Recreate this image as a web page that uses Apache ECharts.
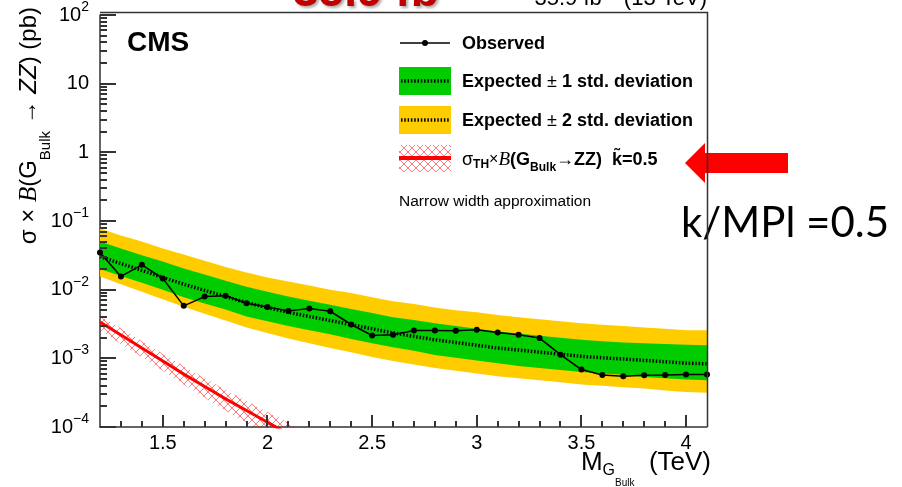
<!DOCTYPE html>
<html>
<head>
<meta charset="utf-8">
<script src="https://cdn.jsdelivr.net/npm/echarts@6/dist/echarts.min.js"></script>
<style>
html, body { margin: 0; padding: 0; background: #fff; }
#chart { width: 902px; height: 487px; }
</style>
</head>
<body>
<div id="chart"></div>
<script>
// masses (TeV)
var massPoints = [1.2, 1.3, 1.4, 1.5, 1.6, 1.7, 1.8, 1.9, 2.0, 2.1, 2.2, 2.3, 2.4, 2.5, 2.6,
                  2.7, 2.8, 2.9, 3.0, 3.1, 3.2, 3.3, 3.4, 3.5, 3.6, 3.7, 3.8, 3.9, 4.0, 4.1];
// observed limit (pb)
var observed = [0.0348, 0.0156, 0.0230, 0.0146, 0.00581, 0.00793, 0.00818, 0.00633, 0.00561, 0.00491,
                0.00531, 0.00485, 0.00311, 0.00215, 0.00220, 0.00255, 0.00255, 0.00253, 0.00261, 0.00238,
                0.00220, 0.00197, 0.00113, 0.000686, 0.000573, 0.000548, 0.000568, 0.000573, 0.000581, 0.000581];
// expected median
var expected = [0.0302, 0.0240, 0.0191, 0.0151, 0.0120, 0.00977, 0.00794, 0.00646, 0.00550, 0.00468,
                0.00407, 0.00355, 0.00309, 0.00269, 0.00234, 0.00209, 0.00186, 0.00170, 0.00155, 0.00141,
                0.00132, 0.00123, 0.00115, 0.00107, 0.00102, 0.000977, 0.000933, 0.000891, 0.000851, 0.000832];
var plus1 = [0.0501, 0.0398, 0.0316, 0.0257, 0.0204, 0.0166, 0.0135, 0.0110, 0.00933, 0.00794,
             0.00692, 0.00603, 0.00525, 0.00457, 0.00398, 0.00363, 0.00324, 0.00295, 0.00269, 0.00245,
             0.00229, 0.00214, 0.00200, 0.00186, 0.00178, 0.00170, 0.00166, 0.00162, 0.00158, 0.00155];
var minus1 = [0.0200, 0.0158, 0.0126, 0.0100, 0.00776, 0.00631, 0.00513, 0.00407, 0.00347, 0.00295,
              0.00257, 0.00224, 0.00191, 0.00166, 0.00145, 0.00129, 0.00112, 0.00102, 0.000933, 0.000851,
              0.000776, 0.000724, 0.000676, 0.000631, 0.000603, 0.000575, 0.000537, 0.000513, 0.000490, 0.000479];
var plus2 = [0.0776, 0.0617, 0.0501, 0.0398, 0.0324, 0.0263, 0.0214, 0.0178, 0.0151, 0.0132,
             0.0115, 0.0100, 0.00891, 0.00776, 0.00676, 0.00617, 0.00550, 0.00501, 0.00468, 0.00427,
             0.00398, 0.00372, 0.00347, 0.00324, 0.00309, 0.00295, 0.00282, 0.00269, 0.00257, 0.00257];
var minus2 = [0.0155, 0.0120, 0.00933, 0.00724, 0.00562, 0.00447, 0.00355, 0.00282, 0.00234, 0.00195,
              0.00166, 0.00141, 0.00123, 0.00105, 0.000912, 0.000813, 0.000724, 0.000661, 0.000603, 0.000550,
              0.000513, 0.000479, 0.000447, 0.000417, 0.000398, 0.000380, 0.000363, 0.000339, 0.000324, 0.000316];

// theory sigma x B (k~ = 0.5)
var theoryMass = [1.2, 1.3, 1.4, 1.5, 1.6, 1.7, 1.8, 1.9, 2.0, 2.1, 2.2];
var theoryXsec = [0.00339, 0.00219, 0.00141, 0.000912, 0.000589, 0.000389, 0.000257, 0.000174, 0.000117, 0.0000794, 0.0000550];
var theoryUp   = [0.00417, 0.00275, 0.00178, 0.00117, 0.000776, 0.000513, 0.000347, 0.000240, 0.000166, 0.000115, 0.0000813];
var theoryDown = [0.00257, 0.00162, 0.00105, 0.000661, 0.000417, 0.000269, 0.000174, 0.000115, 0.0000759, 0.0000501, 0.0000339];

var xMajorTicks = [1.5, 2, 2.5, 3, 3.5, 4];
var xMinorTicks = [1.3, 1.4, 1.6, 1.7, 1.8, 1.9, 2.1, 2.2, 2.3, 2.4, 2.6, 2.7, 2.8, 2.9,
                   3.1, 3.2, 3.3, 3.4, 3.6, 3.7, 3.8, 3.9];
var yMajorTicks = [0.0001, 0.001, 0.01, 0.1, 1, 10, 100];
var yMinorTicks = [];
for (var e = -4; e < 2; e++) {
  for (var m = 2; m <= 9; m++) yMinorTicks.push(m * Math.pow(10, e));
}

var FONT = '"Liberation Sans", Arial, Helvetica, sans-serif';
var SERIF = '"Liberation Serif", "Times New Roman", serif';
var AXIS_COLOR = '#333';
var X0 = 1.2, Y0 = 0.0001;

function zip(xs, ys) {
  var out = [];
  for (var i = 0; i < xs.length; i++) out.push([xs[i], ys[i]]);
  return out;
}

// red cross hatch like ROOT fill style 3344
var hatch = document.createElement('canvas');
hatch.width = 8; hatch.height = 8;
var hc = hatch.getContext('2d');
hc.strokeStyle = 'rgba(255,0,0,0.75)';
hc.lineWidth = 0.7;
hc.beginPath();
hc.moveTo(0, 0); hc.lineTo(8, 8);
hc.moveTo(8, 0); hc.lineTo(0, 8);
hc.stroke();

function band(name, xs, lo, hi, fill, z) {
  return {
    name: name,
    type: 'custom',
    coordinateSystem: 'cartesian2d',
    clip: true,
    silent: true,
    z: z,
    data: [[xs[0], hi[0]]],
    renderItem: function (params, api) {
      var pts = [];
      for (var i = 0; i < xs.length; i++) pts.push(api.coord([xs[i], hi[i]]));
      for (var j = xs.length - 1; j >= 0; j--) pts.push(api.coord([xs[j], lo[j]]));
      return { type: 'polygon', shape: { points: pts }, style: { fill: fill, stroke: null } };
    }
  };
}

// inward ROOT-style ticks placed through the axis scales
function tickSeries(name, pts, dx, dy) {
  return {
    name: name, type: 'custom', coordinateSystem: 'cartesian2d', clip: false, silent: true, z: 20,
    data: [[X0, Y0]],
    renderItem: function (params, api) {
      var children = [];
      for (var i = 0; i < pts.length; i++) {
        var p = api.coord(pts[i]);
        var px = Math.round(p[0]), py = Math.round(p[1]);
        var r = dx !== 0
          ? { x: px, y: py - 1, width: dx, height: 2 }
          : { x: px - 1, y: py + dy, width: 2, height: -dy };
        children.push({ type: 'rect', shape: r, style: { fill: AXIS_COLOR } });
      }
      return { type: 'group', children: children };
    }
  };
}

function t(size, o) {
  o = o || {};
  return {
    fontSize: size,
    fontFamily: o.family || FONT,
    fontWeight: o.weight || 'normal',
    fontStyle: o.style || 'normal',
    fill: o.fill || '#000',
    verticalAlign: 'middle',
    padding: o.padding || [0, 0, 0, 0]
  };
}

var chart = echarts.init(document.getElementById('chart'));

chart.setOption({
  animation: false,
  grid: { left: 100, top: 13, right: 195, bottom: 60 },
  xAxis: {
    type: 'value', min: 1.2, max: 4.1,
    axisLine: { show: true, lineStyle: { color: AXIS_COLOR, width: 1.5 } },
    splitLine: { show: false },
    axisTick: { show: false },
    axisLabel: { customValues: xMajorTicks, fontSize: 20, fontFamily: FONT, color: '#000', margin: 6 }
  },
  yAxis: {
    type: 'log', min: 0.0001, max: 100,
    axisLine: { show: true, lineStyle: { color: AXIS_COLOR, width: 1.5 } },
    splitLine: { show: false },
    axisTick: { show: false },
    axisLabel: {
      margin: 11,
      formatter: function (v) {
        var p = Math.round(Math.log(v) / Math.LN10);
        if (p === 0) return '{b|1}';
        if (p === 1) return '{b|10}';
        return '{b|10}{s|' + (p < 0 ? '\u2212' + (-p) : p) + '}';
      },
      rich: {
        b: { fontSize: 20, fontFamily: FONT, color: '#000', verticalAlign: 'middle' },
        s: { fontSize: 14, fontFamily: FONT, color: '#000', verticalAlign: 'middle', padding: [0, 0, 16, 0] }
      }
    }
  },
  series: [
    band('Expected \u00b1 2 std. deviation', massPoints, minus2, plus2, '#ffcc00', 1),
    band('Expected \u00b1 1 std. deviation', massPoints, minus1, plus1, '#00cc00', 2),
    {
      name: 'Expected', type: 'line', z: 3, silent: true,
      data: zip(massPoints, expected),
      symbol: 'none',
      lineStyle: { color: '#000', width: 3.5, type: [1.5, 1.8] }
    },
    band('Theory band', theoryMass, theoryDown, theoryUp, { image: hatch, repeat: 'repeat' }, 3),
    {
      name: 'Theory', type: 'line', z: 4, silent: true,
      data: zip(theoryMass, theoryXsec),
      symbol: 'none',
      lineStyle: { color: '#ff0000', width: 3 }
    },
    {
      name: 'Observed', type: 'line', z: 5, silent: true,
      data: zip(massPoints, observed),
      symbol: 'circle', symbolSize: 6,
      itemStyle: { color: '#000' },
      lineStyle: { color: '#000', width: 1.5 }
    },
    tickSeries('yMajor', yMajorTicks.map(function (v) { return [X0, v]; }), 16, 0),
    tickSeries('yMinor', yMinorTicks.map(function (v) { return [X0, v]; }), 7, 0),
    tickSeries('xMajor', xMajorTicks.map(function (v) { return [v, Y0]; }), 0, -12),
    tickSeries('xMinor', xMinorTicks.map(function (v) { return [v, Y0]; }), 0, -6)
  ],
  graphic: [
    // top and right frame lines
    { type: 'polyline', z: 100, silent: true, shape: { points: [[100, 12.5], [707.5, 12.5], [707.5, 427]] },
      style: { fill: null, stroke: AXIS_COLOR, lineWidth: 1.5 } },
    // cut-off header texts
    { type: 'text', x: 293, y: -7, z: 50, style: {
        text: '35.9 fb', font: 'bold 46px ' + FONT, fill: '#c00000', verticalAlign: 'middle',
        textShadowColor: 'rgba(0,0,0,0.35)', textShadowBlur: 3, textShadowOffsetX: 2, textShadowOffsetY: 2 } },
    { type: 'text', x: 707, y: -1, z: 50, style: {
        text: '{a|35.9 fb}{s|\u22121}{a| (13 TeV)}', align: 'right', verticalAlign: 'middle',
        rich: { a: t(22), s: t(14, { padding: [0, 0, 14, 0] }) } } },
    // CMS
    { type: 'text', x: 127, y: 43, z: 50, style: {
        text: 'CMS', font: 'bold 28px ' + FONT, fill: '#000', verticalAlign: 'middle' } },
    // legend: observed
    { type: 'line', z: 50, shape: { x1: 400, y1: 43, x2: 450, y2: 43 }, style: { stroke: '#000', lineWidth: 1.5 } },
    { type: 'circle', z: 51, shape: { cx: 425, cy: 43, r: 3 }, style: { fill: '#000' } },
    { type: 'text', x: 462, y: 44, z: 50, style: {
        text: 'Observed', font: 'bold 18px ' + FONT, fill: '#000', verticalAlign: 'middle' } },
    // legend: 1 sigma
    { type: 'rect', z: 50, shape: { x: 399, y: 67, width: 52, height: 28 }, style: { fill: '#00cc00' } },
    { type: 'line', z: 51, shape: { x1: 401, y1: 81, x2: 450, y2: 81 }, style: { stroke: '#000', lineWidth: 3.5, lineDash: [1.5, 1.8] } },
    { type: 'text', x: 462, y: 82, z: 50, style: {
        text: '{b|Expected }{r|\u00b1}{b| 1 std. deviation}', verticalAlign: 'middle',
        rich: { b: t(18, { weight: 'bold' }), r: t(18) } } },
    // legend: 2 sigma
    { type: 'rect', z: 50, shape: { x: 399, y: 106, width: 52, height: 28 }, style: { fill: '#ffcc00' } },
    { type: 'line', z: 51, shape: { x1: 401, y1: 120, x2: 450, y2: 120 }, style: { stroke: '#000', lineWidth: 3.5, lineDash: [1.5, 1.8] } },
    { type: 'text', x: 462, y: 121, z: 50, style: {
        text: '{b|Expected }{r|\u00b1}{b| 2 std. deviation}', verticalAlign: 'middle',
        rich: { b: t(18, { weight: 'bold' }), r: t(18) } } },
    // legend: theory
    { type: 'rect', z: 50, shape: { x: 399, y: 145, width: 52, height: 27 }, style: { fill: { image: hatch, repeat: 'repeat' } } },
    { type: 'line', z: 51, shape: { x1: 399, y1: 158, x2: 451, y2: 158 }, style: { stroke: '#ff0000', lineWidth: 4 } },
    { type: 'text', x: 462, y: 160, z: 50, style: {
        text: '{r|\u03c3}{th|TH}{x|\u00d7}{i|B}{b|(G}{bk|Bulk}{r|\u2192}{b|ZZ)  k\u0303=0.5}', verticalAlign: 'middle',
        rich: {
          r: t(18), x: t(16),
          th: t(12, { weight: 'bold', padding: [10, 0, 0, 0] }),
          i: t(19, { family: SERIF, style: 'italic' }),
          b: t(18, { weight: 'bold' }),
          bk: t(12, { weight: 'bold', padding: [16, 0, 0, 0] })
        } } },
    { type: 'text', x: 399, y: 202, z: 50, style: {
        text: 'Narrow width approximation', font: '15.5px ' + FONT, fill: '#000', verticalAlign: 'middle' } },
    // axis titles
    { type: 'text', x: 711, y: 463, z: 50, style: {
        text: '{m|M}{g|G}{bk|Bulk}{m|  (TeV)}', align: 'right', verticalAlign: 'middle',
        rich: { m: t(26), g: t(16, { padding: [16, 0, 0, 0] }), bk: t(10, { padding: [40, 0, 0, 0] }) } } },
    { type: 'text', x: 29, y: 7, z: 50, rotation: Math.PI / 2, style: {
        text: '{r|\u03c3 \u00d7 }{i|B}{r|(G}{bk|Bulk}{r| \u2192 }{z|ZZ}{r|) (pb)}', align: 'right', verticalAlign: 'middle',
        rich: {
          r: t(24), i: t(25, { family: SERIF, style: 'italic' }), z: t(24, { style: 'italic' }),
          bk: t(15, { padding: [34, 0, 0, 0] })
        } } },
    // annotation arrow and text
    { type: 'polygon', z: 40, shape: { points: [[685, 163], [705, 143], [705, 153], [788, 153], [788, 173], [705, 173], [705, 183]] },
      style: { fill: '#ff0000' } },
    { type: 'text', x: 681, y: 223, z: 40, style: {
        text: 'k/MPl =0.5', font: '42px Lato, "Open Sans", sans-serif', fill: '#000', verticalAlign: 'middle' } }
  ]
});
</script>
</body>
</html>
